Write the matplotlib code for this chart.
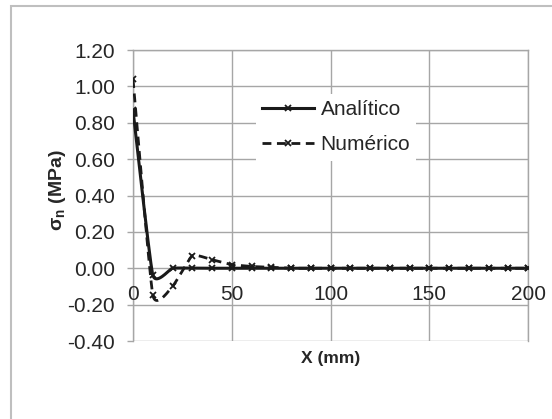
import numpy as np
import matplotlib
matplotlib.use("Agg")
import matplotlib.pyplot as plt
from matplotlib.patches import Rectangle

# ---- data ----
x_mm = [0, 10, 20, 30, 40, 50, 60, 70, 80, 90, 100, 110, 120, 130, 140,
        150, 160, 170, 180, 190, 200]
analitico = [0.87, -0.036, 0.0, 0.0, 0.0, 0.0, 0.0, 0.0, 0.0, 0.0, 0.0,
             0.0, 0.0, 0.0, 0.0, 0.0, 0.0, 0.0, 0.0, 0.0, 0.0]
numerico = [1.04, -0.146, -0.10, 0.069, 0.047, 0.02, 0.01, 0.005, 0.0, 0.0,
            0.0, 0.0, 0.0, 0.0, 0.0, 0.0, 0.0, 0.0, 0.0, 0.0, 0.0]
yticks = [-0.40, -0.20, 0.00, 0.20, 0.40, 0.60, 0.80, 1.00, 1.20]
xticks = [0, 50, 100, 150, 200]
labels = ["Analítico", "Numérico"]


def smooth(xs, ys, k=0.075, n=30):
    """Bezier smoothing through the points (Excel-like smoothed line)."""
    P = np.column_stack([xs, ys]).astype(float)
    out = [P[0]]
    m = len(P)
    for i in range(m - 1):
        p0 = P[i - 1] if i > 0 else P[i]
        p1, p2 = P[i], P[i + 1]
        p3 = P[i + 2] if i + 2 < m else P[i + 1]
        c1 = p1 + k * (p2 - p0)
        c2 = p2 - k * (p3 - p1)
        t = np.linspace(0, 1, n)[1:, None]
        seg = ((1 - t) ** 3) * p1 + 3 * ((1 - t) ** 2) * t * c1 \
            + 3 * (1 - t) * t ** 2 * c2 + t ** 3 * p2
        out.extend(seg)
    out = np.array(out)
    return out[:, 0], out[:, 1]


plt.rcParams['font.family'] = ['Liberation Sans', 'DejaVu Sans']
W, H = 552, 419
fig = plt.figure(figsize=(W / 100, H / 100), dpi=100)
fig.patch.set_facecolor('white')

# outer chart border (only left/top visible)
fig.patches.append(Rectangle((11 / W, -0.2), 2.0, 1 - 6 / H + 0.2,
                             transform=fig.transFigure, fill=False,
                             edgecolor='#BFBFBF', linewidth=1.5))

ax = fig.add_axes([133 / W, 1 - 341 / H, (528 - 133) / W, (341 - 50) / H])
ax.set_xlim(0, 200)
ax.set_ylim(-0.40, 1.20)

grid_c = '#A6A6A6'
for s in ax.spines.values():
    s.set_color(grid_c)
    s.set_linewidth(1.0)
ax.spines['bottom'].set_visible(False)
ax.set_yticks(yticks)
ax.set_yticklabels([f"{v:.2f}" for v in yticks])
ax.set_xticks(xticks)
ax.set_xticklabels([])
ax.tick_params(axis='x', length=0)
ax.tick_params(axis='y', length=4, width=1.0, color=grid_c, pad=9,
               labelsize=15, labelcolor='#262626')
ax.grid(True, color=grid_c, linewidth=1.0)
ax.set_axisbelow(True)

# x tick labels drawn at the y=0 crossing (Excel style)
for xv in xticks:
    ax.annotate(str(xv), (xv, 0), xytext=(0, -12), textcoords='offset points',
                ha='center', va='top', fontsize=15, color='#262626',
                annotation_clip=False)

dash = (0, (3.2, 2.0))
xs, ys = smooth(x_mm, analitico)
ax.plot(xs, ys, color='#1a1a1a', lw=2.2, solid_capstyle='round', zorder=4)
ax.plot(x_mm, analitico, ls='none', marker='x', ms=4, mew=1.3,
        color='#1a1a1a', zorder=5)
xn, yn = smooth(x_mm, numerico)
ax.plot(xn, yn, color='#1a1a1a', lw=2.0, ls=dash, zorder=3)
ax.plot(x_mm, numerico, ls='none', marker='x', ms=4, mew=1.3,
        color='#1a1a1a', zorder=5)

# legend
h1, = ax.plot([], [], color='#1a1a1a', lw=2.2, marker='x', ms=4, mew=1.3)
h2, = ax.plot([], [], color='#1a1a1a', lw=2.0, ls=dash,
              marker='x', ms=4, mew=1.3)
leg = ax.legend([h1, h2], labels, loc='upper left',
                bbox_to_anchor=((256 - 133) / (528 - 133), (341 - 94) / (341 - 50)),
                frameon=True, fontsize=15, handlelength=2.5, handletextpad=0.3,
                borderpad=0.3, labelspacing=0.78, borderaxespad=0,
                fancybox=False)
leg.get_frame().set_edgecolor('none')
leg.get_frame().set_facecolor('white')
leg.get_frame().set_alpha(1)
for t in leg.get_texts():
    t.set_color('#262626')

fig.text(58 / W, 1 - 190 / H, r"σ$_\mathregular{n}$ (MPa)", rotation=90,
         ha='center', va='center', fontsize=14, fontweight='bold',
         color='#262626')
fig.text(331 / W, 1 - 358 / H, "X (mm)", ha='center', va='center',
         fontsize=12.5, fontweight='bold', color='#262626')

fig.savefig('out.png', dpi=100, facecolor='white')
